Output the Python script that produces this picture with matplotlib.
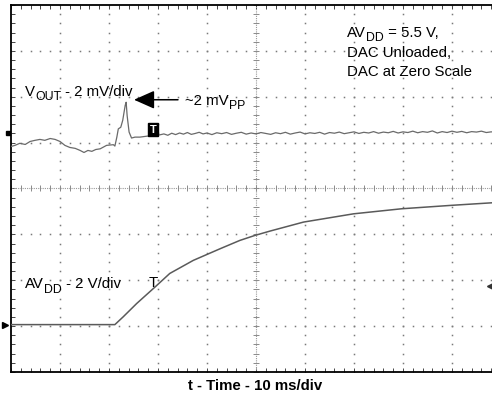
import matplotlib
matplotlib.use("Agg")
import matplotlib.pyplot as plt
import matplotlib.transforms as mtransforms
import numpy as np

plt.rcParams['font.family'] = ['Liberation Sans', 'DejaVu Sans']

# ---- data (time in ms, 10 ms/div) ----
vout_t = [0.0, 0.8, 1.8, 2.9, 3.9, 4.9, 5.9, 6.9, 8.0, 9.0, 10.0, 11.0, 12.0, 13.1,
          14.1, 14.9, 15.7, 16.5, 17.3, 18.2, 19.5, 20.9, 21.2, 21.6, 21.9, 22.4,
          22.8, 23.3, 23.5, 23.7, 24.1, 24.6, 25.3, 26.3, 27.7, 29.0, 30.4,
          31.2, 32.0, 32.8, 33.6, 34.4, 35.2, 36.0, 36.8, 37.6, 38.4, 39.2, 40.0,
          41.0, 42.0, 43.0, 44.0, 45.0, 46.0, 47.0, 48.0, 49.0, 50.0, 51.0, 52.0,
          53.0, 54.0, 55.0, 56.0, 57.0, 58.0, 59.0, 60.0, 61.0, 62.0, 63.0, 64.0,
          65.0, 66.0, 67.0, 68.0, 69.0, 70.0, 71.0, 72.0, 73.0, 74.0, 75.0, 76.0,
          77.0, 78.0, 79.0, 80.0, 81.0, 82.0, 83.0, 84.0, 85.0, 86.0, 87.0, 88.0,
          89.0, 90.0, 91.0, 92.0, 93.0, 94.0, 95.0, 96.0, 97.0, 98.0, 99.0, 100.0]
vout_mV = [-0.57, -0.52, -0.43, -0.48, -0.35, -0.30, -0.26, -0.30, -0.22, -0.26,
           -0.35, -0.52, -0.61, -0.65, -0.74, -0.83, -0.74, -0.78, -0.70, -0.67,
           -0.52, -0.49, -0.55, -0.16, 0.20, 0.27, 0.57, 1.22, 1.36, 0.78, 0.06,
           -0.20, -0.16, -0.16, -0.12, -0.09, -0.06,
           -0.02, -0.08, 0.01, -0.05, 0.02, -0.03, 0.04, -0.04, 0.00, 0.05, -0.02,
           0.02, -0.05, 0.03, -0.01, 0.04, -0.04, 0.01, 0.05, -0.03, 0.02, -0.02,
           0.04, 0.00, -0.04, 0.03, -0.01, 0.05, -0.03, 0.02, 0.06, -0.02, 0.03,
           0.00, 0.05, -0.03, 0.04, 0.01, 0.06, -0.01, 0.03, 0.07, 0.00, 0.05,
           0.02, 0.08, 0.01, 0.06, 0.03, 0.09, 0.02, 0.07, 0.04, 0.10, 0.03, 0.08,
           0.05, 0.11, 0.02, 0.08, 0.04, 0.10, 0.05, 0.09, 0.03, 0.08, 0.06, 0.10,
           0.04, 0.07, 0.05, 0.09]

avdd_t = [0.0, 21.2, 22.9, 25.65, 29.4, 32.4, 37.2, 42.7, 46.7, 49.8, 52.9, 59.7,
          69.9, 79.7, 89.9, 98.1, 100.0]
avdd_V = [0.0, 0.0, 0.34, 0.92, 1.64, 2.23, 2.80, 3.31, 3.67, 3.89, 4.08, 4.47,
          4.83, 5.05, 5.20, 5.31, 5.33]

# scope settings
vout_scale = 2.0   # mV/div
vout_ref = 5.2     # div (ground marker of channel 1)
avdd_scale = 2.0   # V/div
avdd_ref = 1.033   # div (ground marker of channel 2)
time_scale = 10.0  # ms/div

W, H = 492, 396
fig = plt.figure(figsize=(W / 100, H / 100), dpi=100)
x0, x1, y0, y1 = 11, 501, 5, 372
ax = fig.add_axes([x0 / W, (H - y1) / H, (x1 - x0) / W, (y1 - y0) / H])
ax.set_xlim(0, 10)
ax.set_ylim(0, 8)
renderer = fig.canvas.get_renderer()


def px(x):
    return (x - x0) / 49


def py(y):
    return (y1 - y) / 46


grid_c = '#7a7a7a'
# sparse dotted grid
sub = np.arange(0, 10.001, 0.2)
subv = np.arange(0, 8.001, 0.2)
for yy in range(1, 8):
    if yy == 4:
        continue
    ax.plot(sub, np.full_like(sub, yy), ls='none', marker='s', ms=1.1,
            mfc=grid_c, mec='none')
for xx in range(1, 10):
    if xx == 5:
        continue
    ax.plot(np.full_like(subv, xx), subv, ls='none', marker='s', ms=1.1,
            mfc=grid_c, mec='none')

# center cross with minor ticks
ax.plot([0, 10], [4, 4], color='#9a9a9a', lw=0.8, ls=(0, (1, 1)))
ax.plot([5, 5], [0, 8], color='#9a9a9a', lw=0.8, ls=(0, (1, 1)))
ax.plot(sub, np.full_like(sub, 4), ls='none', marker='|', ms=4, mew=0.7, color='#8a8a8a')
ax.plot(np.full_like(subv, 5), subv, ls='none', marker='_', ms=4, mew=0.7, color='#8a8a8a')

# border ticks
ax.set_xticks(np.arange(0, 10.001, 0.2))
ax.set_yticks(np.arange(0, 8.001, 0.2))
ax.tick_params(direction='in', length=3, width=0.7, color='#444444',
               top=True, right=True, labelbottom=False, labelleft=False)
for s in ax.spines.values():
    s.set_linewidth(1.3)
    s.set_color('black')

# traces
xv = np.array(vout_t) / time_scale
yv = vout_ref + np.array(vout_mV) / vout_scale
ax.plot(xv, yv, color='#6a6a6a', lw=0.9, zorder=5)

xa = np.array(avdd_t) / time_scale
ya = avdd_ref + np.array(avdd_V) / avdd_scale
ax.plot(xa, ya, color='#5a5a5a', lw=1.1, zorder=5)

fs = 10.8


def rich(x, y, parts):
    """parts: list of (text, is_sub). Baseline at data (x, y)."""
    trans = ax.transData
    for txt, is_sub in parts:
        size = fs * 0.82 if is_sub else fs
        dy = -0.30 * fs if is_sub else 0
        t = ax.text(x, y, txt, fontsize=size, va='baseline', ha='left',
                    transform=mtransforms.offset_copy(trans, fig=fig, x=0, y=dy,
                                                      units='points'))
        trans = mtransforms.offset_copy(t.get_transform(), fig=fig, x=0, y=-dy,
                                        units='points')
        ext = t.get_window_extent(renderer)
        trans = mtransforms.offset_copy(trans, fig=fig, x=ext.width, y=0,
                                        units='dots')


# annotations
rich(px(25), py(95), [('V', False), ('OUT', True), (' - 2 mV/div', False)])
ax.annotate('', xy=(px(134), py(99)), xytext=(px(178), py(99)),
            arrowprops=dict(arrowstyle='-|>,head_length=0.9,head_width=0.4',
                            color='black', lw=1.1, shrinkA=0, shrinkB=0,
                            mutation_scale=14))
rich(px(185), py(104), [('~2 mV', False), ('PP', True)])
rich(px(347), py(36), [('AV', False), ('DD', True), (' = 5.5 V,', False)])
ax.text(px(347), py(56), 'DAC Unloaded,', fontsize=fs, va='baseline', ha='left')
ax.text(px(347), py(75), 'DAC at Zero Scale', fontsize=fs, va='baseline', ha='left')
rich(px(25), py(288), [('AV', False), ('DD', True), (' - 2 V/div', False)])
ax.text(px(153), py(283), 'T', fontsize=fs, va='center',
        ha='center', zorder=6)
ax.text(px(153), py(129), 'T', fontsize=8, color='white',
        fontweight='bold', va='center', ha='center', zorder=7,
        bbox=dict(boxstyle='square,pad=0.15', fc='black', ec='black'))

# channel markers
ax.plot([-0.06], [vout_ref], marker='s', ms=3, color='black', clip_on=False)
ax.plot([-0.13], [avdd_ref], marker='>', ms=4, color='black', clip_on=False)
ax.plot([px(490)], [py(286)], marker='<', ms=4, color='#333333', clip_on=False)

fig.text(255 / W, 1 - 386 / H, 't - Time - 10 ms/div', fontsize=fs,
         fontweight='bold', ha='center', va='center')

fig.savefig('out.png', dpi=100)
